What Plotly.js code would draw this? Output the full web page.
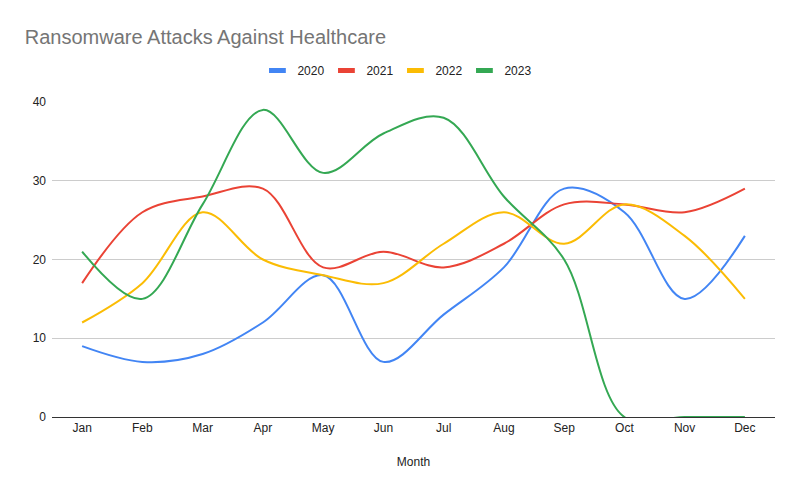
<!DOCTYPE html>
<html>
<head>
<meta charset="utf-8">
<script src="https://cdn.plot.ly/plotly-3.0.1.min.js"></script>
<style>html,body{margin:0;padding:0;background:#fff;}#chart{width:800px;height:494px;}</style>
</head>
<body>
<div id="chart"></div>
<script>
const months = ["Jan","Feb","Mar","Apr","May","Jun","Jul","Aug","Sep","Oct","Nov","Dec"];
const series = ["2020","2021","2022","2023"];
const v2020 = [9, 7, 8, 12, 18, 7, 13, 19, 29, 26, 15, 23];
const v2021 = [17, 26, 28, 29, 19, 21, 19, 22, 27, 27, 26, 29];
const v2022 = [12, 17, 26, 20, 18, 17, 22, 26, 22, 27, 23, 15];
const v2023 = [21, 15, 27, 39, 31, 36, 38, 28, 20, 0, 0, 0];
const colors = ["#4285F4", "#EA4335", "#FBBC04", "#34A853"];
const values = [v2020, v2021, v2022, v2023];

const traces = series.map((name, i) => ({
  x: months, y: values[i], name: name, type: "scatter", mode: "lines",
  line: {color: colors[i], width: 2, shape: "spline", smoothing: 1},
  showlegend: false, hoverinfo: "x+y+name"
}));
// legend entries (short thick bars like the reference)
series.forEach((name, i) => traces.push({
  x: [null], y: [null], name: name, type: "scatter", mode: "markers",
  marker: {symbol: "line-ew", size: 12, color: colors[i], line: {color: colors[i], width: 5}},
  showlegend: true, hoverinfo: "skip"
}));

const layout = {
  width: 800, height: 494,
  margin: {l: 52, r: 25, t: 102, b: 77},
  paper_bgcolor: "#fff", plot_bgcolor: "#fff",
  font: {family: "Liberation Sans, Arial, sans-serif", color: "#222", size: 12},
  title: {text: "Ransomware Attacks Against Healthcare", x: 0.031, xanchor: "left", y: 0.925, yanchor: "middle",
          font: {size: 20, color: "#757575", family: "Liberation Sans, Arial, sans-serif"}},
  showlegend: true,
  legend: {orientation: "h", x: 0.475, xanchor: "center", y: 1.1, yanchor: "middle",
           font: {size: 12, color: "#222"}, itemwidth: 30, entrywidth: 24, entrywidthmode: "pixels"},
  xaxis: {type: "category", range: [-0.5, 11.5], showgrid: false, zeroline: false,
          showline: true, linecolor: "#333", linewidth: 1, ticks: "", tickfont: {size: 12, color: "#222"},
          title: {text: "Month", font: {size: 12, color: "#222"}, standoff: 23}, fixedrange: true},
  yaxis: {range: [0, 40], tickvals: [0, 10, 20, 30, 40], showgrid: true, gridcolor: "#cccccc",
          zeroline: false, showline: false, ticks: "", ticklabelstandoff: 5,
          tickfont: {size: 12, color: "#222"}, fixedrange: true}
};

Plotly.newPlot("chart", traces, layout, {displayModeBar: false, staticPlot: true});
</script>
</body>
</html>
